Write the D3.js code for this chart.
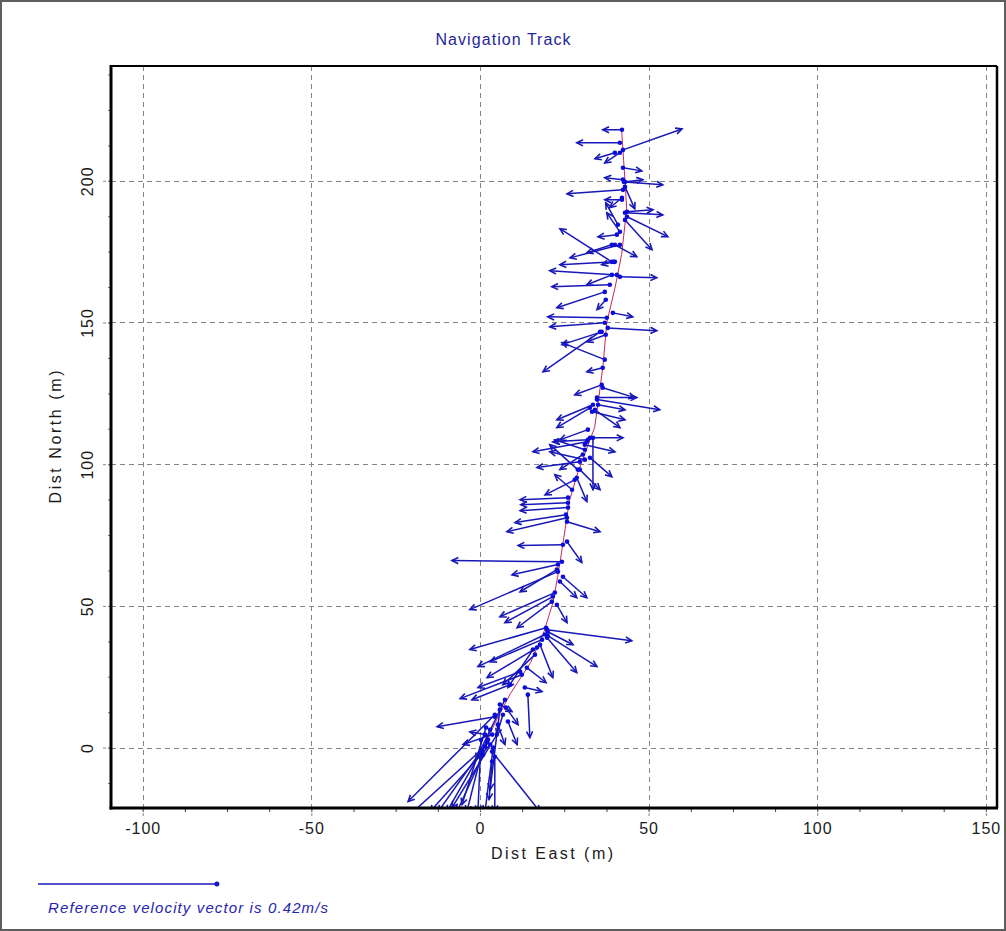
<!DOCTYPE html>
<html>
<head>
<meta charset="utf-8">
<script src="https://cdn.jsdelivr.net/npm/d3@7"></script>
<style>
  body { margin: 0; background: #fff; }
  text { font-family: Arial, "Liberation Sans", sans-serif; }
</style>
</head>
<body>
<svg width="1006" height="931"></svg>
<script>
// ---- data (metres east / north) ----
const xTicks = [-100, -50, 0, 50, 100, 150];
const yTicks = [0, 50, 100, 150, 200];
const xDomain = [-109.4, 153.3];
const yDomain = [-21.3, 240.5];

// smoothed navigation track
const trackE = [1, 3, 5, 9, 15, 19, 21.6, 23, 24.6, 26.5, 29, 34, 35.3, 36.5, 37.6, 40, 42, 43.5, 43, 42];
const trackN = [-3, 5, 10, 19, 30, 41, 51, 60, 72, 87, 97, 113, 124, 135, 150, 162, 174, 190, 200, 218];

// velocity vectors: fix position and vector tip (scaled)
const vecStartE = [4.4, 1.5, 2.1, 0.9, 0.6, 0.3, 3.6, 4.4, 3.6, 5.0, 3.0, 12.4, 8.9, 13.3, 14.2, 4.4, 3.6, 8.3, 1.5, 5.9, 7.4,
  24.3, 24.6, 25.8, 23.1, 22.8, 23.1, 24.6, 23.7, 22.2, 21.6, 21.3, 22.8, 19.9, 20.1, 19.6, 19.3, 18.4, 20.1, 19.9, 16.9, 17.8, 16.3, 15.7,
  34.7, 34.7, 33.5, 32.6, 33.2, 34.1, 32.6, 31.7, 32.6, 33.5, 29.6, 28.7, 26.1, 26.1, 26.1, 25.8, 25.8, 25.5, 29.0, 31.1, 27.3,
  36.4, 36.4, 37.0, 35.6, 36.1, 37.9, 37.0, 37.6, 39.4, 37.0, 38.5, 40.6, 41.5, 36.1,
  42.1, 42.4, 41.5, 40.0, 41.5, 42.4, 42.4, 42.7, 43.0, 42.4, 43.0, 42.1, 43.0, 43.6, 43.6, 43.0, 39.1, 41.5, 40.9, 40.6, 41.5, 40.0,
  5.9, 6.8, 5.3, 3.0, 7.7, 11.9, 13.9, 28.1, 29.6, 30.5, 31.1, 32.0, 32.0, 35.0, 31.1,
  40.0, 42.1, 39.1, 39.7, 39.1, 37.3, 37.3, 2.4, 3.9, 1.8];
const vecStartN = [11.6, 0.4, 1.8, -2.5, -1.4, 2.8, -4.9, -3.2, -1.4, 4.6, 1.1, 25.7, 22.2, 21.2, 18.7, 10.9, 4.6, 9.2, 4.6, 13.4, 16.9,
  65.6, 71.6, 72.7, 64.6, 62.8, 62.1, 60.3, 58.6, 54.7, 53.3, 51.5, 50.4, 41.6, 40.9, 42.3, 39.9, 38.1, 39.5, 38.8, 35.3, 36.3, 32.8, 34.6,
  123.5, 122.8, 121.0, 119.9, 118.5, 119.2, 109.3, 107.9, 102.3, 109.3, 100.9, 95.2, 88.2, 86.4, 84.7, 81.1, 79.7, 82.2, 98.1, 105.1, 91.0,
  127.0, 134.0, 136.9, 146.7, 146.7, 148.1, 149.9, 151.7, 153.4, 160.8, 163.3, 166.8, 166.1, 128.0,
  218.0, 210.9, 213.4, 209.9, 209.9, 204.6, 200.4, 199.6, 199.6, 196.8, 197.9, 193.3, 188.7, 189.1, 187.3, 186.2, 171.4, 182.0, 184.5, 181.0, 177.4, 171.4,
  15.2, 11.6, 8.1, 6.3, 14.1, 26.8, 28.2, 94.5, 98.1, 103.4, 106.9, 112.2, 108.6, 121.0, 101.6,
  177.4, 194.0, 177.4, 171.4, 166.8, 158.0, 145.7, 2.8, 0.0, 7.1];
const vecEndE = [-21.3, -20.7, -12.4, -6.8, -3.9, -0.6, 2.7, 4.4, 17.8, -8.3, -14.8, -5.9, -2.4, 18.4, 14.8, -12.7, -5.0, 11.0, -3.0, 3.0, -1.2,
  -8.3, 11.3, 30.2, 9.5, 11.9, -3.0, 31.7, 28.7, 5.9, 7.4, 11.0, 25.8, 45.0, 27.6, -3.0, -0.6, 3.0, 34.7, 28.7, 2.1, 21.6, 6.8, 8.3,
  46.5, 53.3, 22.8, 22.8, 43.0, 41.5, 42.4, 15.7, 39.1, 33.5, 16.9, 31.7, 11.9, 12.1, 11.9, 8.0, 35.6, 10.4, 20.7, 22.2, 22.2,
  45.9, 31.7, 24.3, 18.7, 24.3, 52.4, 20.7, 20.1, 45.3, 22.8, 21.3, 20.7, 52.4, 28.1,
  36.4, 59.9, 28.7, 34.1, 37.0, 48.0, 37.0, 48.3, 54.2, 25.8, 45.9, 37.0, 54.2, 51.3, 55.7, 51.0, 23.7, 37.6, 37.3, 35.0, 26.7, 23.7,
  9.5, 5.0, 7.4, 0.0, 11.3, -0.6, 19.6, 19.3, 35.6, 23.7, 40.0, 23.7, 21.6, 43.0, 20.7,
  46.5, 38.5, 31.7, 36.1, 31.7, 34.7, 31.7, -9.8, 1.5, -5.3];
const vecEndN = [-19.0, -23.6, -22.6, -22.6, -22.6, -22.6, -18.3, -22.6, -22.6, -21.2, -22.6, 17.3, 16.9, 19.8, 3.5, 7.4, 1.1, 1.1, 5.6, -14.8, -4.2,
  66.0, 71.3, 65.3, 61.0, 55.0, 48.7, 52.9, 52.9, 46.2, 44.1, 42.3, 44.1, 37.7, 36.3, 34.6, 28.6, 30.3, 28.6, 26.5, 24.7, 24.7, 22.2, 21.2,
  123.5, 119.2, 115.7, 112.9, 115.7, 112.9, 109.3, 104.4, 95.6, 91.0, 98.8, 86.8, 87.5, 85.7, 83.6, 76.2, 76.2, 79.4, 106.9, 108.6, 96.3,
  123.5, 132.6, 142.9, 132.6, 142.2, 147.1, 148.5, 152.0, 152.0, 155.2, 162.6, 168.3, 165.8, 124.5,
  218.0, 218.3, 213.4, 207.8, 206.3, 203.5, 201.1, 200.4, 198.6, 195.4, 190.1, 193.3, 188.0, 189.8, 180.3, 175.7, 183.1, 188.7, 192.2, 180.2, 172.8, 170.4,
  12.7, 4.6, 1.1, -4.2, 8.1, 21.2, 22.9, 89.2, 91.0, 98.1, 104.4, 108.6, 107.9, 119.2, 104.4,
  173.2, 190.5, 174.6, 170.4, 163.3, 154.5, 143.2, -22.6, -22.6, -20.1];

const refSpeed = 0.42;        // m/s
const vecScale = 127;         // metres drawn per m/s

// ---- layout ----
const svg = d3.select("svg");
const W = 1006, H = 931;
const plot = {left: 111, right: 997, top: 66, bottom: 808};

const x = d3.scaleLinear().domain(xDomain).range([plot.left, plot.right]);
const y = d3.scaleLinear().domain(yDomain).range([plot.bottom, plot.top]);

const navy = "#1818b8";
const gridCol = "#858585";
const fmt = d => String(d);

svg.append("rect").attr("x", 1).attr("y", 1).attr("width", W - 2).attr("height", H - 2)
  .attr("fill", "#fff").attr("stroke", "#5e5e5e").attr("stroke-width", 2);

svg.append("defs").append("clipPath").attr("id", "clip")
  .append("rect").attr("x", plot.left).attr("y", plot.top)
  .attr("width", plot.right - plot.left).attr("height", plot.bottom - plot.top);

// grid
const grid = svg.append("g").attr("stroke", gridCol).attr("stroke-width", 1).attr("stroke-dasharray", "5,4");
grid.selectAll(".gx").data(xTicks).join("line")
  .attr("x1", d => Math.round(x(d)) + 0.5).attr("x2", d => Math.round(x(d)) + 0.5)
  .attr("y1", plot.top).attr("y2", plot.bottom);
grid.selectAll(".gy").data(yTicks).join("line")
  .attr("y1", d => Math.round(y(d)) + 0.5).attr("y2", d => Math.round(y(d)) + 0.5)
  .attr("x1", plot.left).attr("x2", plot.right);

// track + vectors
const body = svg.append("g").attr("clip-path", "url(#clip)");

const trackPts = trackE.map((e, i) => [e, trackN[i]]);
body.append("path")
  .attr("d", d3.line().x(d => x(d[0])).y(d => y(d[1]))(trackPts))
  .attr("fill", "none").attr("stroke", "#c8285a").attr("stroke-width", 1);

const vecs = vecStartE.map((e, i) => ({e0: e, n0: vecStartN[i], e1: vecEndE[i], n1: vecEndN[i]}));

function headPath(x0, y0, x1, y1, len) {
  const a = Math.atan2(y1 - y0, x1 - x0);
  const w = 0.45;
  const ax = x1 - len * Math.cos(a - w), ay = y1 - len * Math.sin(a - w);
  const bx = x1 - len * Math.cos(a + w), by = y1 - len * Math.sin(a + w);
  return `M${ax},${ay}L${x1},${y1}L${bx},${by}`;
}

body.selectAll(".vec").data(vecs).join("line")
  .attr("x1", d => x(d.e0)).attr("y1", d => y(d.n0))
  .attr("x2", d => x(d.e1)).attr("y2", d => y(d.n1))
  .attr("stroke", navy).attr("stroke-width", 1.5);

body.selectAll(".head").data(vecs).join("path")
  .attr("d", d => headPath(x(d.e0), y(d.n0), x(d.e1), y(d.n1), 7))
  .attr("fill", "none").attr("stroke", navy).attr("stroke-width", 1.6);

body.selectAll(".fix").data(vecs).join("circle")
  .attr("cx", d => x(d.e0)).attr("cy", d => y(d.n0)).attr("r", 2.3)
  .attr("fill", "#0c0cd8");

// axes
const minorX = d3.range(-100, 150.1, 12.5);
const minorY = d3.range(-12.5, 240.1, 12.5);

const gxMinor = svg.append("g").attr("transform", `translate(0,${plot.bottom})`)
  .call(d3.axisBottom(x).tickValues(minorX).tickSize(4).tickFormat(""));
gxMinor.select(".domain").remove();
gxMinor.selectAll("line").attr("stroke", "#444");

const gyMinor = svg.append("g").attr("transform", `translate(${plot.left},0)`)
  .call(d3.axisLeft(y).tickValues(minorY).tickSize(3).tickFormat(""));
gyMinor.select(".domain").remove();
gyMinor.selectAll("line").attr("stroke", "#777");

const gx = svg.append("g").attr("transform", `translate(0,${plot.bottom})`)
  .call(d3.axisBottom(x).tickValues(xTicks).tickSize(9).tickPadding(6).tickFormat(fmt));
gx.select(".domain").remove();
gx.selectAll("line").attr("stroke", gridCol).attr("stroke-dasharray", "3,2");
gx.selectAll("text").attr("font-size", 16).attr("fill", "#1a1a1a")
  .attr("letter-spacing", "1px").attr("font-family", "Arial, 'Liberation Sans', sans-serif");

const gy = svg.append("g").attr("transform", `translate(${plot.left},0)`)
  .call(d3.axisLeft(y).tickValues(yTicks).tickSize(8).tickFormat(fmt));
gy.select(".domain").remove();
gy.selectAll("line").attr("stroke", gridCol).attr("stroke-dasharray", "3,2");
gy.selectAll("text")
  .attr("transform", "rotate(-90)")
  .attr("x", 0).attr("y", -24).attr("dy", "0.35em")
  .attr("text-anchor", "middle")
  .attr("font-size", 16).attr("fill", "#1a1a1a")
  .attr("letter-spacing", "1px").attr("font-family", "Arial, 'Liberation Sans', sans-serif");

// frame
svg.append("line").attr("x1", plot.left).attr("x2", plot.right).attr("y1", plot.top).attr("y2", plot.top)
  .attr("stroke", "#000").attr("stroke-width", 2);
svg.append("line").attr("x1", plot.right).attr("x2", plot.right).attr("y1", plot.top).attr("y2", plot.bottom)
  .attr("stroke", "#000").attr("stroke-width", 2.5);
svg.append("line").attr("x1", plot.left).attr("x2", plot.left).attr("y1", plot.top - 1).attr("y2", plot.bottom + 1.5)
  .attr("stroke", "#000").attr("stroke-width", 3);
svg.append("line").attr("x1", plot.left - 1.5).attr("x2", plot.right + 1).attr("y1", plot.bottom).attr("y2", plot.bottom)
  .attr("stroke", "#000").attr("stroke-width", 3);

// titles
svg.append("text").attr("x", W / 2).attr("y", 45).attr("text-anchor", "middle")
  .attr("font-size", 16).attr("fill", "#26269a").attr("textLength", 135).attr("lengthAdjust", "spacing")
  .text("Navigation Track");

svg.append("text").attr("x", (plot.left + plot.right) / 2 - 2).attr("y", 859).attr("text-anchor", "middle")
  .attr("font-size", 16).attr("fill", "#1a1a1a").attr("textLength", 122).attr("lengthAdjust", "spacing")
  .text("Dist East (m)");

svg.append("text").attr("transform", `translate(61,${(plot.top + plot.bottom) / 2}) rotate(-90)`)
  .attr("text-anchor", "middle")
  .attr("font-size", 16).attr("fill", "#1a1a1a").attr("textLength", 133).attr("lengthAdjust", "spacing")
  .text("Dist North (m)");

// reference vector
const refLen = x(refSpeed * vecScale) - x(0);
const refX0 = 38, refY = 884;
svg.append("line").attr("x1", refX0).attr("x2", refX0 + refLen).attr("y1", refY).attr("y2", refY)
  .attr("stroke", navy).attr("stroke-width", 1.5);
svg.append("circle").attr("cx", refX0 + refLen - 1).attr("cy", refY).attr("r", 2.5).attr("fill", navy);
svg.append("text").attr("x", 48).attr("y", 913)
  .attr("font-size", 15).attr("font-style", "italic").attr("fill", "#2424b0")
  .attr("textLength", 280).attr("lengthAdjust", "spacing")
  .text(`Reference velocity vector is ${refSpeed}m/s`);
</script>
</body>
</html>
